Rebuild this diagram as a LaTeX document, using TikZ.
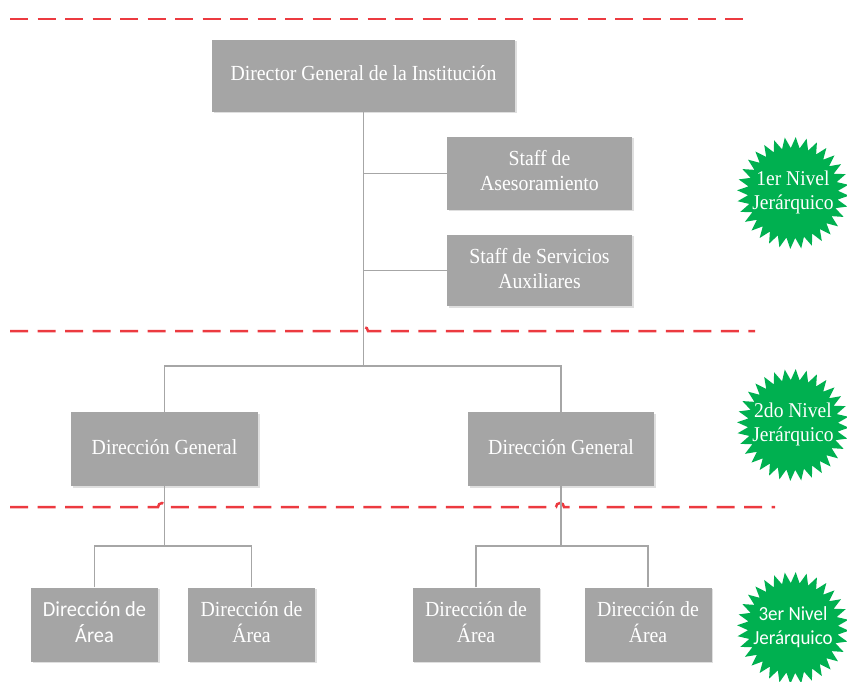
\documentclass[tikz,border=0pt]{standalone}
\usepackage{fontspec}
\setmainfont{Liberation Serif}
\newfontfamily\labelsans{Carlito}
\usetikzlibrary{shadows}

\definecolor{boxgray}{HTML}{A5A5A5}
\definecolor{linkgray}{HTML}{A6A6A6}
\definecolor{cutred}{HTML}{EC3A40}
\definecolor{badgegreen}{HTML}{00B050}

% narrow, centred multi-line label
\newcommand{\narrowlabel}[2][0.92]{\scalebox{#1}[1]{\begin{tabular}{@{}c@{}}#2\end{tabular}}}

\begin{document}
\begin{tikzpicture}[x=1pt,y=-1pt,
  orgbox/.style={fill=boxgray, text=white, inner sep=0pt, align=center,
    font=\fontsize{21.5}{25}\selectfont,
    drop shadow={opacity=0.25, shadow xshift=1.5pt, shadow yshift=-1.5pt}},
  link/.style={draw=linkgray, line width=1.5pt},
  cutline/.style={draw=cutred, line width=2.5pt, dash pattern=on 18pt off 9.5pt},
  badge/.style={fill=badgegreen},
  badgetext/.style={text=white, align=center, inner sep=0pt,
    font=\fontsize{21}{24}\selectfont}
]
\useasboundingbox (0,0) rectangle (847,682);

% level separators
\draw[cutline] (10,19) -- (745,19);
\draw[cutline] (10,331) -- (360,331) arc (180:360:4) -- (755,331);
\draw[cutline] (10,507) -- (158,507) arc (180:360:4) -- (556,507) arc (180:360:4) -- (775,507);

% boxes
\node[orgbox, minimum width=303pt, minimum height=72pt] (dir) at (363.5,76)
  {\narrowlabel{Director General de la Institución}};
\node[orgbox, minimum width=185pt, minimum height=73pt] (st1) at (539.5,173.5)
  {\narrowlabel{Staff de\\Asesoramiento}};
\node[orgbox, minimum width=185pt, minimum height=71pt] (st2) at (539.5,270.5)
  {\narrowlabel{Staff de Servicios\\Auxiliares}};
\node[orgbox, minimum width=187pt, minimum height=74pt] (dgl) at (164.5,449)
  {\narrowlabel{Dirección General}};
\node[orgbox, minimum width=186pt, minimum height=74pt] (dgr) at (561,449)
  {\narrowlabel{Dirección General}};
\node[orgbox, minimum width=127pt, minimum height=74pt] (a1) at (94.5,624.5)
  {\labelsans\narrowlabel[0.95]{Dirección de\\Área}};
\node[orgbox, minimum width=127pt, minimum height=74pt] (a2) at (251.5,624.5)
  {\narrowlabel{Dirección de\\Área}};
\node[orgbox, minimum width=127pt, minimum height=74pt] (a3) at (476,624.5)
  {\narrowlabel{Dirección de\\Área}};
\node[orgbox, minimum width=127pt, minimum height=74pt] (a4) at (648,624.5)
  {\narrowlabel{Dirección de\\Área}};

% connectors
\coordinate (top) at (363.5,366);
\coordinate (lefthub) at (164.5,546);
\coordinate (righthub) at (561,546);
\draw[link] (dir.south) -- (top);
\draw[link] (st1.west) -- (st1.west -| dir.south);
\draw[link] (st2.west) -- (st2.west -| dir.south);
\draw[link] (dgl.north) |- (top) -| (dgr.north);
\draw[link] (dgl.south) -- (lefthub);
\draw[link] (a1.north) |- (lefthub) -| (a2.north);
\draw[link] (dgr.south) -- (righthub);
\draw[link] (a3.north) |- (righthub) -| (a4.north);

% level badges
\foreach \cy in {193,425,628}{
  \fill[badge, shift={(793,\cy)}]
    plot[samples at={0,...,63}] (\x*5.625+2.8:{mod(\x,2)==0 ? 56 : 45}) -- cycle;
}
\node[badgetext] (lvl1) at (793,193) {\narrowlabel[0.93]{1er Nivel\\Jerárquico}};
\node[badgetext] (lvl2) at (793,425) {\narrowlabel[0.93]{2do Nivel\\Jerárquico}};
\node[badgetext, font=\fontsize{20}{24}\selectfont] (lvl3) at (793,628)
  {\labelsans\narrowlabel[0.95]{3er Nivel\\Jerárquico}};
\end{tikzpicture}
\end{document}
